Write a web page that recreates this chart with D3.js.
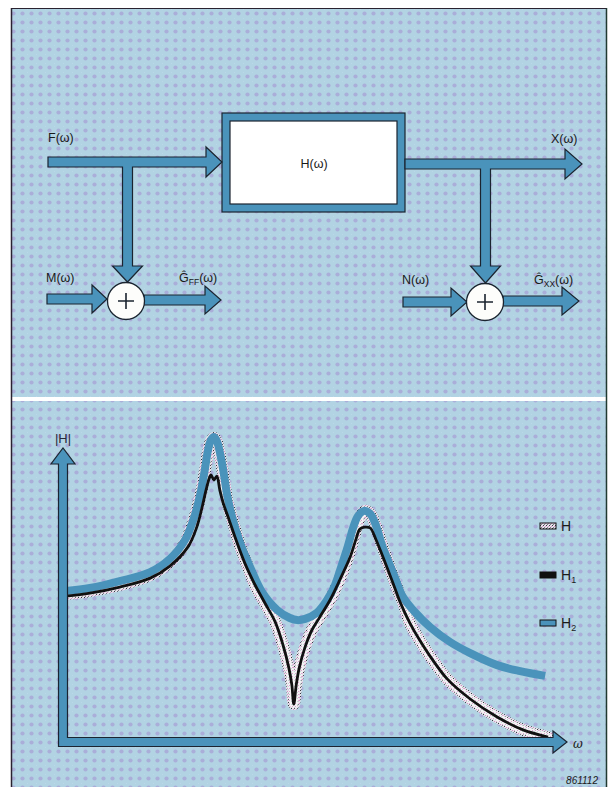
<!DOCTYPE html>
<html><head><meta charset="utf-8">
<script src="https://cdn.jsdelivr.net/npm/d3@7"></script>
<style>html,body{margin:0;padding:0;background:#fff}svg{display:block}</style>
</head><body>
<script>
// ---------- data (ω in arbitrary units 0..100, |H| in arbitrary units 0..100) ----------
const seriesH = [[0.6,49],[5.5,50],[11.6,52],[17.8,55.3],[21.8,59.7],[24.9,66],[26.9,74.7],[28.2,83],[29.0,90.3],[29.6,96.3],[30.2,100],[30.8,101],[31.4,99.7],[32.0,95.3],[32.7,88.7],[33.5,80.3],[34.7,73],[36.1,65.3],[37.6,58.7],[39.2,52],[41.2,46],[43.3,39.7],[44.9,32],[46.1,24.3],[46.7,18.7],[47.1,12.3],[47.6,18.7],[48.2,24.3],[49.4,31.3],[50.8,37],[52.4,41.3],[54.5,47],[56.5,54],[58.2,61.3],[59.4,68],[60.4,73.7],[61.6,76.7],[62.7,75.7],[63.9,71.3],[65.1,65.3],[66.5,58.7],[68.2,51],[69.6,45.3],[70.8,39.3],[72.9,33.3],[74.9,28.3],[78.4,20.7],[83.1,14],[88.6,8],[93.9,3.7],[99.0,1.3]];
const seriesH1 = [[0.6,48.3],[5.5,49.3],[11.6,51.3],[17.8,54.3],[21.8,58.3],[25.5,64.7],[27.3,71.3],[28.4,78],[29.2,83.7],[29.8,87.3],[30.2,88.7],[30.8,87],[31.4,88.3],[32.0,83.7],[32.7,79.3],[33.9,73.7],[35.1,68],[37.1,59.3],[39.2,52],[41.2,46],[43.3,39.7],[44.9,32],[46.1,24.3],[46.7,18.7],[47.1,12.3],[47.6,18.7],[48.2,24.3],[49.4,31.3],[50.8,37],[52.4,41.3],[54.5,47],[56.5,53.7],[58.6,61.3],[59.8,67.3],[60.6,70.7],[61.6,71.3],[62.7,71],[63.9,67],[65.3,61.3],[67.1,53.7],[68.8,46.3],[70.8,39.3],[72.9,33.3],[74.9,28.3],[78.4,20.7],[83.1,14],[88.6,8],[93.9,3.7],[99.0,1.3]];
const seriesH2 = [[0.6,50],[5.5,51],[11.6,53.3],[17.8,56.3],[21.8,60.7],[24.9,67],[26.9,75.3],[28.2,83.7],[29.0,91],[29.6,97],[30.2,100.3],[30.8,101.3],[31.4,100],[32.0,96.3],[32.7,90.3],[33.5,82],[34.5,74.7],[36.1,66.3],[38.2,58],[40.6,49.7],[43.7,43.7],[46.3,41],[47.8,40.3],[49.4,40.7],[51.8,42.7],[53.9,47],[55.5,52],[56.9,58.7],[58.2,65.3],[59.2,71],[60.2,75],[61.4,76.7],[62.7,75.7],[63.9,71.7],[65.1,65.3],[66.3,60.3],[67.8,54.3],[69.4,48],[71.8,43],[74.9,38],[79.0,33],[83.1,29.3],[88.6,25.3],[93.3,23.3],[98.4,21.7]];
const legendNames = ["H", "H1", "H2"];
const legendSubs = ["", "1", "2"];
const yAxisLabel = "|H|";
const xAxisLabel = "ω";
const figureCode = "861112";

const W = 612, HH = 787;
const svg = d3.select("body").append("svg").attr("width", W).attr("height", HH);
const defs = svg.append("defs");
const bg = defs.append("pattern").attr("id","bgdots").attr("patternUnits","userSpaceOnUse").attr("width",9).attr("height",9);
bg.append("rect").attr("width",9).attr("height",9).attr("fill","#b2d3e3");
bg.append("circle").attr("cx",4.5).attr("cy",4.5).attr("r",2.1).attr("fill","#aaaed9");
bg.append("circle").attr("cx",0).attr("cy",0).attr("r",1).attr("fill","#bddaea");
const sp = defs.append("pattern").attr("id","speckle").attr("patternUnits","userSpaceOnUse").attr("width",3).attr("height",3);
sp.append("rect").attr("width",3).attr("height",3).attr("fill","#e6e2ea");
sp.append("rect").attr("x",0).attr("y",0).attr("width",1).attr("height",1).attr("fill","#3a3a44");
sp.append("rect").attr("x",2).attr("y",1).attr("width",1).attr("height",1).attr("fill","#d493c6");
sp.append("rect").attr("x",1).attr("y",2).attr("width",1).attr("height",1).attr("fill","#7a7a84");
const sl = defs.append("pattern").attr("id","speckleLight").attr("patternUnits","userSpaceOnUse").attr("width",3).attr("height",3);
sl.append("rect").attr("width",3).attr("height",3).attr("fill","#f4f2f4");
sl.append("rect").attr("x",1).attr("y",1).attr("width",1).attr("height",1).attr("fill","#dca6cf");
sl.append("rect").attr("x",0).attr("y",2).attr("width",1).attr("height",1).attr("fill","#c9d6dc");

const BLUE = "#4a93bb", DARK = "#1b2430", FONT = "'Liberation Sans', Arial, sans-serif";

svg.append("rect").attr("x",12).attr("y",9).attr("width",594).attr("height",388).attr("fill","url(#bgdots)");
svg.append("rect").attr("x",12).attr("y",401).attr("width",594).attr("height",390).attr("fill","url(#bgdots)");
svg.append("line").attr("x1",11.5).attr("x2",11.5).attr("y1",8).attr("y2",787).attr("stroke","#2a2230").attr("stroke-width",1.5);
svg.append("line").attr("x1",11).attr("x2",607).attr("y1",8.5).attr("y2",8.5).attr("stroke","#2a2230").attr("stroke-width",1.2);
svg.append("line").attr("x1",606.5).attr("x2",606.5).attr("y1",8).attr("y2",787).attr("stroke","#203a30").attr("stroke-width",1.5);

function poly(pts){ return "M" + pts.map(p=>p.join(",")).join("L") + "Z"; }
function hArrow(x0,x1,yc,sh,hl,hw){
  return poly([[x0,yc-sh],[x1-hl,yc-sh],[x1-hl,yc-hw],[x1,yc],[x1-hl,yc+hw],[x1-hl,yc+sh],[x0,yc+sh]]);
}
function tArrow(x0,x1,yc,xb,yb,sh,hl,hw){
  return poly([[x0,yc-sh],[x1-hl,yc-sh],[x1-hl,yc-hw],[x1,yc],[x1-hl,yc+hw],[x1-hl,yc+sh],
    [xb+sh,yc+sh],[xb+sh,yb-hl],[xb+hw,yb-hl],[xb,yb],[xb-hw,yb-hl],[xb-sh,yb-hl],[xb-sh,yc+sh],[x0,yc+sh]]);
}
const diag = svg.append("g");
function drawPath(d){ diag.append("path").attr("d",d).attr("fill",BLUE).attr("stroke",DARK).attr("stroke-width",1.2).attr("stroke-linejoin","miter"); }

diag.append("rect").attr("x",222).attr("y",113).attr("width",183).attr("height",99).attr("fill",BLUE).attr("stroke",DARK).attr("stroke-width",1.2);
diag.append("rect").attr("x",230).attr("y",121).attr("width",167).attr("height",83).attr("fill","#fff").attr("stroke",DARK).attr("stroke-width",1.2);

drawPath(tArrow(48,222,162,127.5,282,5,16,15));
drawPath(tArrow(405,582,164,485.5,283,5,17,15));
drawPath(hArrow(47,107,299,5,15,14));
drawPath(hArrow(144,221,300,5,16,14));
drawPath(hArrow(403,467,302,5,16,14));
drawPath(hArrow(503,579,301,5,17,14));

[[126,301],[485,302]].forEach(([cx,cy])=>{
  diag.append("circle").attr("cx",cx).attr("cy",cy).attr("r",18.5).attr("fill","#fdfdfb").attr("stroke",DARK).attr("stroke-width",1.3);
  diag.append("path").attr("d",`M${cx-8},${cy}H${cx+8}M${cx},${cy-8}V${cy+8}`).attr("stroke",DARK).attr("stroke-width",1.6);
});

function label(x,y,parts,anchor){
  const t = diag.append("text").attr("x",x).attr("y",y).attr("font-family",FONT).attr("font-size",12.5).attr("fill","#1a1a1a").attr("text-anchor",anchor||"start");
  parts.forEach(p=>{
    const ts = t.append("tspan").text(p.t);
    if(p.sub){ ts.attr("font-size",8.5).attr("dy",3); }
    if(p.up){ ts.attr("dy",-3); }
  });
}
label(48,142,[{t:"F(ω)"}]);
label(551,143,[{t:"X(ω)"}]);
label(314,168,[{t:"H(ω)"}],"middle");
label(46,282,[{t:"M(ω)"}]);
label(179,282,[{t:"Ĝ"},{t:"FF",sub:true},{t:"(ω)",up:true}]);
label(402,284,[{t:"N(ω)"}]);
label(534,284,[{t:"Ĝ"},{t:"XX",sub:true},{t:"(ω)",up:true}]);

// ---------- bottom chart ----------
const x = d3.scaleLinear().domain([0,100]).range([63,553]);
const y = d3.scaleLinear().domain([0,100]).range([741,441]);
const line = d3.line().x(d=>x(d[0])).y(d=>y(d[1])).curve(d3.curveCatmullRom.alpha(0.5));
const g = svg.append("g");
g.append("path").attr("d",line(seriesH)).attr("fill","none").attr("stroke","url(#speckle)").attr("stroke-width",12).attr("stroke-linecap","round").attr("stroke-linejoin","round");
g.append("path").attr("d",line(seriesH)).attr("fill","none").attr("stroke","url(#speckleLight)").attr("stroke-width",8.5).attr("stroke-linecap","round").attr("stroke-linejoin","round");
g.append("path").attr("d",line(seriesH2)).attr("fill","none").attr("stroke",BLUE).attr("stroke-width",8).attr("stroke-linecap","butt").attr("stroke-linejoin","round");
g.append("path").attr("d",line(seriesH1)).attr("fill","none").attr("stroke","#111").attr("stroke-width",2.8).attr("stroke-linecap","butt").attr("stroke-linejoin","round");

const ax0 = x(0), ay0 = y(0);
const sh = 4.5;
const axisPts = [[ax0-sh, ay0+sh+1],[ax0-sh, 464],[ax0-12,464],[ax0,448],[ax0+12,464],[ax0+sh,464],
  [ax0+sh, ay0-sh+1],[553, ay0-sh+1],[553, ay0-10],[567, ay0+1],[553, ay0+12],[553, ay0+sh+1]];
g.append("path").attr("d",poly(axisPts)).attr("fill",BLUE).attr("stroke",DARK).attr("stroke-width",1.2);

svg.append("text").attr("x",63).attr("y",443).attr("text-anchor","middle").attr("font-family",FONT).attr("font-size",13).attr("fill","#2a2a3a").text(yAxisLabel);
svg.append("text").attr("x",573).attr("y",748).attr("font-family","'DejaVu Serif', serif").attr("font-style","italic").attr("font-size",12).attr("fill","#1a1a1a").text(xAxisLabel);

const legY = [526, 575, 623];
const legFill = ["url(#speckle)", "#111", BLUE];
legendNames.forEach((n,i)=>{
  svg.append("rect").attr("x",540).attr("y",legY[i]-3).attr("width",16).attr("height",6).attr("fill",legFill[i]).attr("stroke","#111").attr("stroke-width",1);
  const t = svg.append("text").attr("x",561).attr("y",legY[i]+5).attr("font-family",FONT).attr("font-size",14).attr("fill","#1a1a1a").text("H");
  if(legendSubs[i]) t.append("tspan").attr("font-size",9).attr("dy",3).text(legendSubs[i]);
});

svg.append("text").attr("x",598).attr("y",784).attr("text-anchor","end").attr("font-family",FONT).attr("font-style","italic").attr("font-size",10).attr("fill","#1a1a1a").text(figureCode);
</script>
</body></html>
